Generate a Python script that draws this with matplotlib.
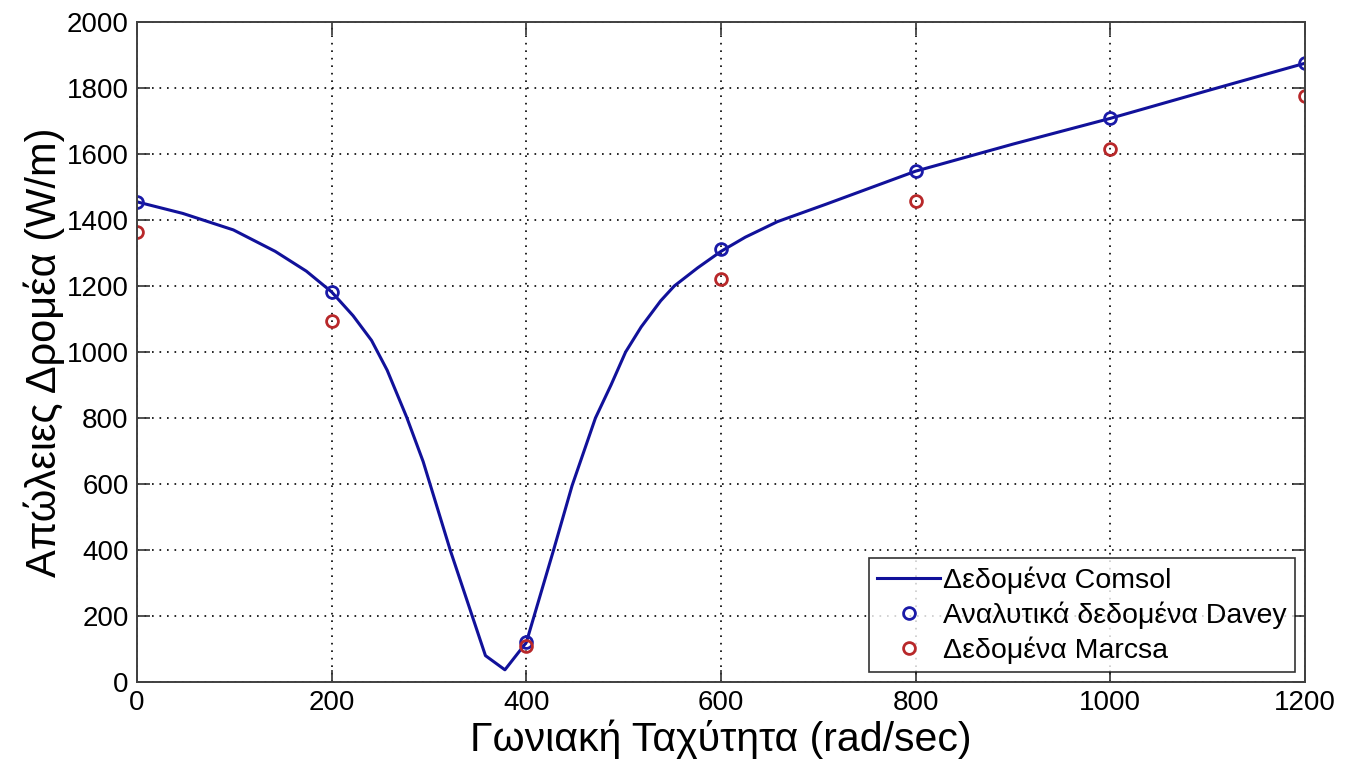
import numpy as np
import matplotlib
matplotlib.use("Agg")
import matplotlib.pyplot as plt

plt.rcParams['font.family'] = ['Liberation Sans', 'DejaVu Sans']

# Comsol curve
comsol_w = [0, 47, 99, 142, 174, 200, 222, 241, 257, 277, 294, 322, 358, 378, 400,
            428, 447, 471, 487, 502, 518, 538, 552, 576, 600, 625, 658, 708,
            800, 900, 1000, 1100, 1200]
comsol_p = [1455, 1420, 1370, 1305, 1245, 1182, 1110, 1035, 945, 803, 668, 398, 80, 37, 120,
            400, 595, 800, 900, 1000, 1076, 1155, 1200, 1255, 1305, 1348, 1395, 1448,
            1548, 1630, 1708, 1792, 1875]

# point data
speed = [0, 200, 400, 600, 800, 1000, 1200]
davey = [1455, 1183, 122, 1312, 1548, 1708, 1875]
marcsa = [1363, 1095, 110, 1222, 1458, 1616, 1776]

xticks = np.arange(0, 1201, 200)
yticks = np.arange(0, 2001, 200)

fig = plt.figure(figsize=(13.55, 7.69), dpi=100)
ax = fig.add_axes([0.1011, 0.1131, 0.9631 - 0.1011, 0.9714 - 0.1131])

ax.plot(comsol_w, comsol_p, color='#11119a', lw=2.2, label='Δεδομένα Comsol')
ax.plot(speed, davey, ls='none', marker='o', ms=8.5, mfc='none', mec='#1a1aa8', mew=2,
        label='Αναλυτικά δεδομένα Davey')
ax.plot(speed, marcsa, ls='none', marker='o', ms=8.5, mfc='none', mec='#b8282a', mew=2,
        label='Δεδομένα Marcsa')

ax.set_xlim(0, 1200)
ax.set_ylim(0, 2000)
ax.set_xticks(xticks)
ax.set_yticks(yticks)
ax.grid(True, ls=(0, (1, 3.5)), color='k', lw=1.2)
ax.tick_params(direction='in', length=9, width=1.2, top=True, right=True,
               labelsize=20, colors='#333333', labelcolor='k', pad=6)
for sp in ax.spines.values():
    sp.set_color('#404040')
    sp.set_linewidth(1.4)

ax.set_xlabel('Γωνιακή Ταχύτητα (rad/sec)', fontsize=29.5, labelpad=2)
ax.set_ylabel('Απώλειες Δρομέα (W/m)', fontsize=30, labelpad=1)

leg = ax.legend(loc='lower right', fontsize=20.5, frameon=True, fancybox=False,
                edgecolor='k', handlelength=2.2, handletextpad=0.1,
                borderaxespad=0.35, labelspacing=0.25, borderpad=0.3)
leg.get_frame().set_linewidth(1.2)

fig.savefig('out.png', dpi=100)
